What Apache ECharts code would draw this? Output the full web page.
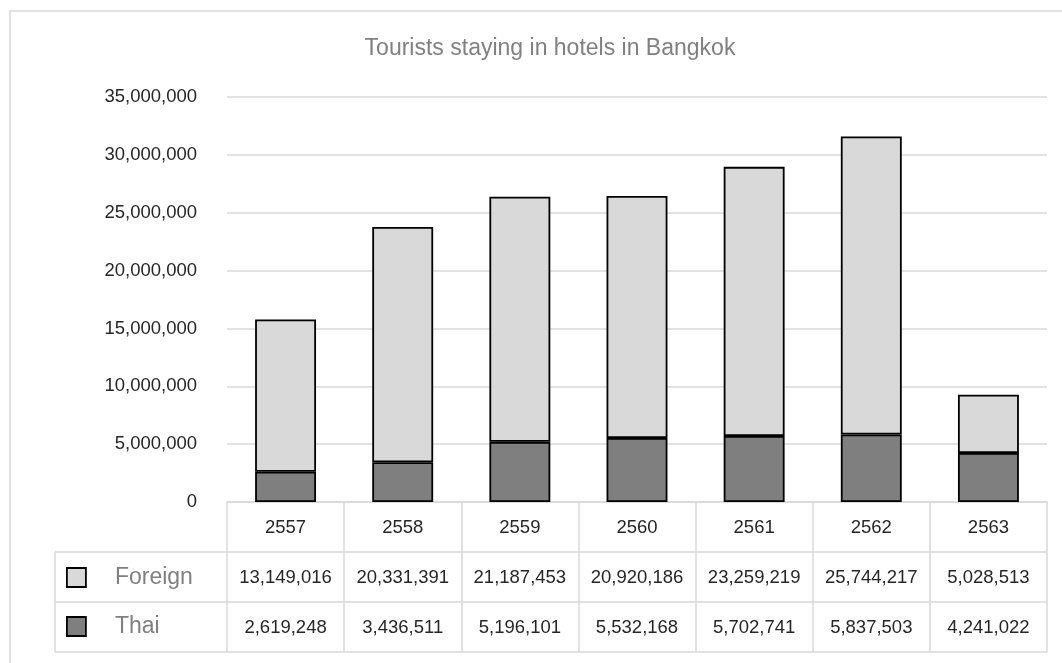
<!DOCTYPE html>
<html>
<head>
<meta charset="utf-8">
<script src="https://cdn.jsdelivr.net/npm/echarts@6/dist/echarts.min.js"></script>
<style>
html,body{margin:0;padding:0;background:#fff;}
#chart{width:1062px;height:663px;}
</style>
</head>
<body>
<div id="chart"></div>
<script>
const titleText = 'Tourists staying in hotels in Bangkok';
const years = ['2557','2558','2559','2560','2561','2562','2563'];
const foreign = [13149016, 20331391, 21187453, 20920186, 23259219, 25744217, 5028513];
const thai = [2619248, 3436511, 5196101, 5532168, 5702741, 5837503, 4241022];
const seriesNames = ['Foreign', 'Thai'];

const fmt = v => v.toLocaleString('en-US');
const FONT = 'Liberation Sans, Arial, sans-serif';

const gridLeft = 227, gridRight = 1047, gridTop = 97, gridBottom = 502;
const rowH = 50;

const chart = echarts.init(document.getElementById('chart'));
const lineStyle = {stroke:'#d9d9d9', lineWidth:1.5};
chart.setOption({
  backgroundColor:'#fff',
  animation:false,
  title:{
    text:titleText, left:545, top:32, textAlign:'center',
    textStyle:{fontFamily:FONT, fontSize:23, fontWeight:'normal', color:'#808080'}
  },
  legend:{
    data:seriesNames, orient:'vertical', left:61, top:561,
    itemWidth:19, itemHeight:19, itemGap:26, icon:'rect',
    itemStyle:{borderColor:'#000', borderWidth:1.8},
    textStyle:{fontFamily:FONT, fontSize:23, color:'#808080', padding:[0,0,0,24]}
  },
  grid:{left:gridLeft, right:1062-gridRight, top:gridTop, bottom:663-gridBottom, containLabel:false},
  xAxis:{
    type:'category', data:years,
    axisLine:{show:true, lineStyle:{color:'#d9d9d9', width:1.5}},
    axisTick:{show:true, length:rowH*3, alignWithLabel:false, lineStyle:{color:'#d9d9d9', width:1.5}},
    axisLabel:{
      margin:1, interval:0, lineHeight:rowH,
      fontFamily:FONT, fontSize:18.5, color:'#262626',
      formatter:(v, i) => v + '\n' + fmt(foreign[i]) + '\n' + fmt(thai[i])
    }
  },
  yAxis:{
    type:'value', min:0, max:35000000, interval:5000000,
    axisLine:{show:false}, axisTick:{show:false},
    splitLine:{lineStyle:{color:'#d9d9d9', width:1.5}},
    axisLabel:{margin:30, fontFamily:FONT, fontSize:18.5, color:'#262626', formatter:v => fmt(v)}
  },
  series:[
    {name:'Thai', type:'bar', stack:'t', data:thai, barWidth:'52%',
     itemStyle:{color:'#7f7f7f', borderColor:'#000', borderWidth:1.8}},
    {name:'Foreign', type:'bar', stack:'t', data:foreign, barWidth:'52%',
     itemStyle:{color:'#d9d9d9', borderColor:'#000', borderWidth:1.8}}
  ],
  graphic:[
    {type:'rect', shape:{x:10, y:11, width:1200, height:800}, style:{fill:'none', stroke:'#d9d9d9', lineWidth:1.5}, z:-1},
    {type:'line', shape:{x1:55, y1:gridBottom+rowH, x2:gridRight, y2:gridBottom+rowH}, style:lineStyle},
    {type:'line', shape:{x1:55, y1:gridBottom+rowH*2, x2:gridRight, y2:gridBottom+rowH*2}, style:lineStyle},
    {type:'line', shape:{x1:55, y1:gridBottom+rowH*3, x2:gridRight, y2:gridBottom+rowH*3}, style:lineStyle},
    {type:'line', shape:{x1:55, y1:gridBottom+rowH, x2:55, y2:gridBottom+rowH*3}, style:lineStyle}
  ]
});
</script>
</body>
</html>
